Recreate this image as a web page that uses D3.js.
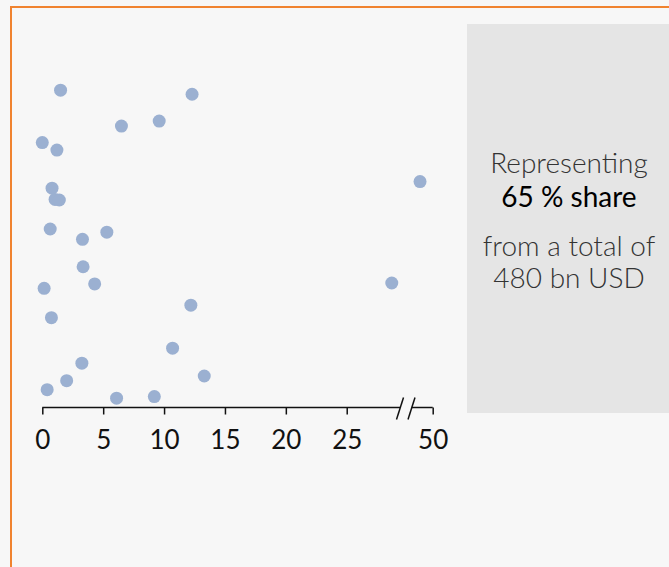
<!DOCTYPE html>
<html>
<head>
<meta charset="utf-8">
<script src="https://cdn.jsdelivr.net/npm/d3@7"></script>
<style>
  html, body { margin: 0; padding: 0; background: #f7f7f7; }
  svg { display: block; }
  .tick text { font-family: Lato, sans-serif; }
</style>
</head>
<body>
<svg id="chart" width="669" height="567"></svg>
<script>
// values in bn USD, jitter = vertical position (0 = bottom, 1 = top)
const values = [1.5, 12.3, 6.5, 9.6, 0.0, 1.2, 0.8, 1.05, 1.4, 0.65, 3.3, 5.3, 3.35, 4.3, 0.15,
                12.2, 0.75, 10.7, 3.25, 13.3, 2.0, 0.4, 6.1, 9.2, 39.9, 28.7];
const jitter = [0.993, 0.980, 0.878, 0.894, 0.825, 0.801, 0.679, 0.643, 0.641, 0.548, 0.515,
                0.538, 0.427, 0.372, 0.358, 0.304, 0.264, 0.166, 0.118, 0.077, 0.062, 0.033,
                0.006, 0.011, 0.700, 0.375];
const tickValues = [0, 5, 10, 15, 20, 25, 50];
const shareLines = ["Representing", "65 % share", "from a total of", "480 bn USD"];

const svg = d3.select("#chart");

// frame
svg.append("line").attr("x1", 11).attr("x2", 669).attr("y1", 7).attr("y2", 7)
    .attr("stroke", "#f0832f").attr("stroke-width", 2);
svg.append("line").attr("x1", 11).attr("x2", 11).attr("y1", 6).attr("y2", 567)
    .attr("stroke", "#f0832f").attr("stroke-width", 2);

const axisY = 407.5;

// piecewise scale with a break between 30 and 50
const x = d3.scaleLinear()
    .domain([0, 30, 50])
    .range([42.3, 407.6, 432.7]);

const y = d3.scaleLinear()
    .domain([0, 1])
    .range([400, 88]);

const axis = d3.axisBottom(x)
    .tickValues(tickValues)
    .tickSize(7)
    .tickPadding(16)
    .tickSizeOuter(0);

const gAxis = svg.append("g")
    .attr("transform", `translate(0,${axisY})`)
    .call(axis);

gAxis.select(".domain").remove();
gAxis.selectAll(".tick line").attr("stroke", "#111").attr("stroke-width", 1.5);
gAxis.selectAll(".tick text")
    .attr("font-size", 26)
    .attr("fill", "#111");

// axis line, broken at the // marks
const breakL = 400, breakR = 411.5;
gAxis.append("line").attr("x1", x(0)).attr("x2", breakL).attr("y1", 0).attr("y2", 0)
    .attr("stroke", "#111").attr("stroke-width", 1.5);
gAxis.append("line").attr("x1", breakR).attr("x2", x(50)).attr("y1", 0).attr("y2", 0)
    .attr("stroke", "#111").attr("stroke-width", 1.5);
[breakL, breakR].forEach(bx => {
    gAxis.append("line")
        .attr("x1", bx - 3.5).attr("y1", 12)
        .attr("x2", bx + 3.5).attr("y2", -10)
        .attr("stroke", "#111").attr("stroke-width", 1.5);
});

// dots
svg.append("g").selectAll("circle")
    .data(values)
    .join("circle")
    .attr("cx", d => x(d))
    .attr("cy", (d, i) => y(jitter[i]))
    .attr("r", 6.5)
    .attr("fill", "#9bb0d1");

// side box
svg.append("rect")
    .attr("x", 467).attr("y", 24)
    .attr("width", 202).attr("height", 389)
    .attr("fill", "#e5e5e5");

const boxText = svg.append("g")
    .attr("font-family", "Lato, sans-serif")
    .attr("text-anchor", "middle")
    .attr("font-size", 28);

const lineY = [163, 197, 246, 278];
shareLines.forEach((t, i) => {
    boxText.append("text")
        .attr("x", 569)
        .attr("y", lineY[i])
        .attr("dy", "0.35em")
        .attr("font-weight", i === 1 ? 400 : 300)
        .attr("fill", i === 1 ? "#000" : "#333")
        .text(t);
});
</script>
</body>
</html>
